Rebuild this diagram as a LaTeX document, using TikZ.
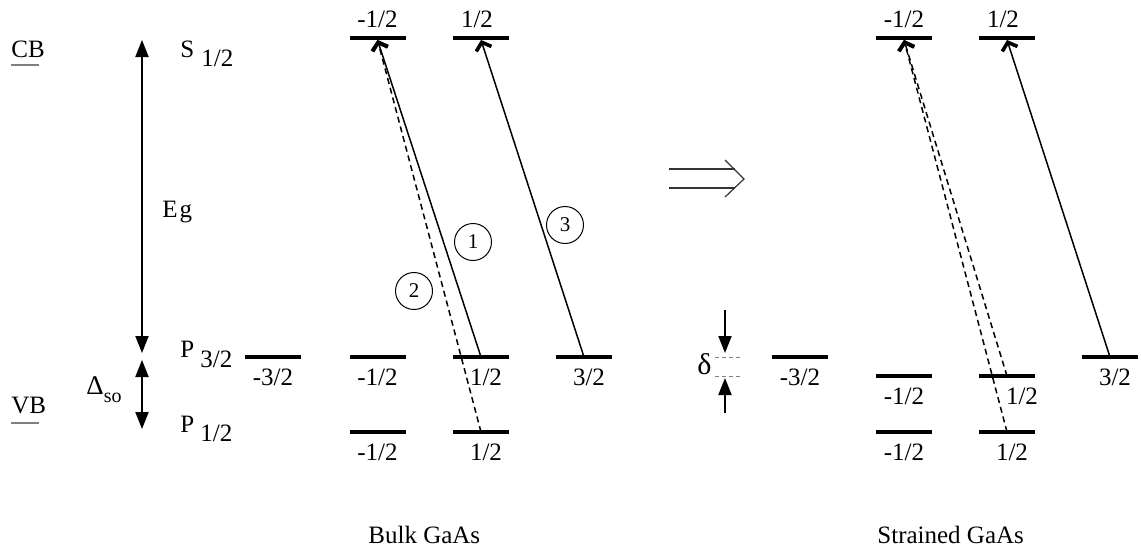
\documentclass[tikz,border=0pt]{standalone}
\usepackage{fontspec}
\setmainfont{Liberation Serif}
\usetikzlibrary{arrows.meta,positioning}

\begin{document}
\begin{tikzpicture}[x=0.5pt, y=-0.5pt, >={Triangle[length=8.5pt,width=6.5pt]},
  every node/.style={font=\fontsize{12.5}{14}\selectfont},
  lvl/.style={fill=black, inner sep=0, minimum width=28pt, minimum height=1.6pt},
  num/.style={inner sep=1pt, text height=8pt, text depth=0pt},
  txt/.style={inner sep=0, anchor=base west},
  trans/.style={line width=0.75pt, -{Straight Barb[length=3.5pt,width=8pt,line width=1.8pt]}},
  circ/.style={draw, circle, line width=0.5pt, minimum size=18.5pt, inner sep=0, font=\fontsize{10.5}{12}\selectfont}]
\useasboundingbox (0,0) rectangle (1141,552);

% left side: bands and gaps
\node[txt] (cb) at (11,57) {CB};
\node[txt] (vb) at (11,413) {VB};
\draw[gray, line width=0.8pt] (11,65) -- (39,65);
\draw[gray, line width=0.8pt] (11,423) -- (39,423);
\node[txt] (s12) at (180,57) {S\hspace{3.5pt}\raisebox{-4.5pt}{1/2}};
\node[txt] (p32) at (180,357) {P\hspace{3pt}\raisebox{-5pt}{3/2}};
\node[txt] (p12) at (180,432) {P\hspace{3pt}\raisebox{-4.5pt}{1/2}};
\node[txt] (eg) at (162,217) {E\hspace{1pt}g};
\node[txt] (dso) at (86,394) {{\fontsize{13.5}{14}\selectfont Δ}\raisebox{-4pt}{\fontsize{10}{12}\selectfont so}};
\coordinate (egtop) at (142,40);
\coordinate (egbot) at (142,353);
\coordinate (sotop) at (142,360);
\coordinate (sobot) at (142,429);
\draw[<->, line width=1pt] (egbot) -- (egtop);
\draw[<->, line width=1pt] (sotop) -- (sobot);

% bulk GaAs levels
\node[lvl] (cbA) at (377.5,38) {};
\node[lvl] (cbB) at (481,38) {};
\node[lvl] (hhA) at (273,357) {};
\node[lvl] (lhA) at (377.5,357) {};
\node[lvl] (lhB) at (481,357) {};
\node[lvl] (hhB) at (584,357) {};
\node[lvl] (soA) at (377.5,432) {};
\node[lvl] (soB) at (481,432) {};
\node[num, above=3pt of cbA] {-1/2};
\node[num, above=3pt of cbB, xshift=-2pt] {1/2};
\node[num, below=4pt of hhA] {-3/2};
\node[num, below=4pt of lhA] {-1/2};
\node[num, below=4pt of lhB, xshift=2.5pt] {1/2};
\node[num, below=4pt of hhB, xshift=2.5pt] {3/2};
\node[num, below=4pt of soA] {-1/2};
\node[num, below=4pt of soB, xshift=2.5pt] {1/2};
\draw[trans] (lhB.center) -- (cbA.south);
\draw[trans, dash pattern=on 3pt off 2pt] (soB.center) -- (cbA.south);
\draw[trans] (hhB.center) -- (cbB.south);
\node[circ] (c1) at (473,242) {1};
\node[circ] (c2) at (414,291) {2};
\node[circ] (c3) at (565,225) {3};
\node[txt] (bulk) at (368,543) {Bulk GaAs};

% strain arrow
\draw[line width=0.6pt, black!80] (669,169) -- (735,169);
\draw[line width=0.6pt, black!80] (669,188) -- (735,188);
\draw[line width=0.6pt, black!80] (725,160) -- (744,179) -- (725,197);

% strained GaAs levels
\node[lvl] (scbA) at (904,38) {};
\node[lvl] (scbB) at (1007,38) {};
\node[lvl] (shhA) at (800,357) {};
\node[lvl] (shhB) at (1110,357) {};
\node[lvl] (slhA) at (904,376) {};
\node[lvl] (slhB) at (1007,376) {};
\node[lvl] (ssoA) at (904,432) {};
\node[lvl] (ssoB) at (1007,432) {};
\node[num, above=3pt of scbA] {-1/2};
\node[num, above=3pt of scbB, xshift=-2pt] {1/2};
\node[num, below=4pt of shhA] {-3/2};
\node[num, below=4pt of shhB, xshift=2.5pt] {3/2};
\node[num, below=4pt of slhA] {-1/2};
\node[num, below=4pt of slhB, xshift=7.5pt] {1/2};
\node[num, below=4pt of ssoA] {-1/2};
\node[num, below=4pt of ssoB, xshift=2.5pt] {1/2};
\draw[trans] (shhB.center) -- (scbB.south);
\draw[trans, dash pattern=on 3pt off 2pt] (slhB.center) -- (scbA.south);
\draw[trans, dash pattern=on 3pt off 2pt] (ssoB.center) -- (scbA.south);
\node[txt] (strained) at (877,543) {Strained GaAs};

% splitting delta
\node[txt, font=\fontsize{15}{16}\selectfont] (delta) at (697,374) {δ};
\coordinate (dtopA) at (725,310);
\coordinate (dtopB) at (725,353);
\coordinate (dbotA) at (725,413);
\coordinate (dbotB) at (725,378);
\draw[->, line width=1pt] (dtopA) -- (dtopB);
\draw[->, line width=1pt] (dbotA) -- (dbotB);
\draw[gray, line width=0.5pt, dash pattern=on 2pt off 1.5pt] (715,357) -- (743,357);
\draw[gray, line width=0.5pt, dash pattern=on 2pt off 1.5pt] (715,376) -- (743,376);
\end{tikzpicture}
\end{document}
